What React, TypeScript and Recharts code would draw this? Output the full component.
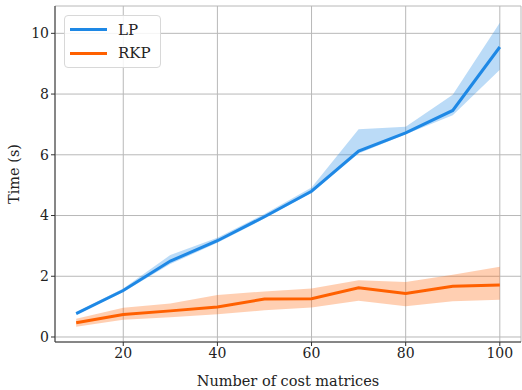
import {
  Area,
  CartesianGrid,
  ComposedChart,
  Line,
  XAxis,
  YAxis,
} from "recharts";

const counts = [10, 20, 30, 40, 50, 60, 70, 80, 90, 100];

const lpMean = [0.77, 1.53, 2.5, 3.17, 3.96, 4.8, 6.12, 6.72, 7.46, 9.55];
const lpLow = [0.74, 1.48, 2.4, 3.1, 3.9, 4.75, 6.04, 6.68, 7.3, 8.8];
const lpHigh = [0.82, 1.6, 2.7, 3.27, 4.05, 4.92, 6.84, 6.92, 7.98, 10.35];

const rkpMean = [0.47, 0.74, 0.86, 0.99, 1.25, 1.26, 1.62, 1.43, 1.67, 1.71];
const rkpLow = [0.34, 0.57, 0.65, 0.75, 0.88, 0.97, 1.19, 1.01, 1.18, 1.23];
const rkpHigh = [0.6, 0.96, 1.1, 1.38, 1.5, 1.6, 1.87, 1.81, 2.05, 2.31];

const xTicks = [20, 40, 60, 80, 100];
const yTicks = [0, 2, 4, 6, 8, 10];

const LP_COLOR = "#1e88e5";
const RKP_COLOR = "#ff6000";
const FONT = "'DejaVu Serif', serif";

const data = counts.map((n, i) => ({
  n,
  lp: lpMean[i],
  lpBand: [lpLow[i], lpHigh[i]],
  rkp: rkpMean[i],
  rkpBand: [rkpLow[i], rkpHigh[i]],
}));

const tickStyle = { fill: "#222", fontSize: 14, fontFamily: FONT };

function LegendBox() {
  const items = [
    { name: "LP", color: LP_COLOR },
    { name: "RKP", color: RKP_COLOR },
  ];
  return (
    <div
      style={{
        position: "absolute",
        left: 64,
        top: 15,
        border: "1px solid #d8d8d8",
        borderRadius: 4,
        background: "rgba(255,255,255,0.85)",
        padding: "2px 9px 2px 5px",
        fontFamily: FONT,
        fontSize: 15,
        color: "#222",
      }}
    >
      {items.map((it) => (
        <div
          key={it.name}
          style={{ display: "flex", alignItems: "center", height: 23.5 }}
        >
          <span
            style={{
              display: "inline-block",
              width: 37,
              height: 3,
              background: it.color,
              marginRight: 11,
            }}
          />
          {it.name}
        </div>
      ))}
    </div>
  );
}

export default function App() {
  return (
    <div
      style={{
        position: "absolute",
        left: 0,
        top: 0,
        width: 522,
        height: 390,
        background: "#fff",
      }}
    >
      <ComposedChart
        width={522}
        height={390}
        data={data}
        margin={{ top: 6, right: 1, left: 0, bottom: 0 }}
      >
        <CartesianGrid stroke="#b8b8b8" strokeWidth={1} />
        <XAxis
          xAxisId={0}
          dataKey="n"
          type="number"
          domain={[5.5, 104.5]}
          ticks={xTicks}
          tick={tickStyle}
          tickSize={4}
          stroke="#333"
          height={48}
          label={{
            value: "Number of cost matrices",
            position: "insideBottom",
            offset: 4,
            style: { fill: "#222", fontSize: 14.5, fontFamily: FONT },
          }}
        />
        <XAxis
          xAxisId="top"
          orientation="top"
          dataKey="n"
          type="number"
          domain={[5.5, 104.5]}
          ticks={xTicks}
          tick={false}
          tickSize={4}
          stroke="#333"
          height={0}
        />
        <YAxis
          yAxisId={0}
          type="number"
          domain={[-0.165, 10.9]}
          ticks={yTicks}
          tick={tickStyle}
          tickSize={4}
          stroke="#333"
          width={55}
          label={{
            value: "Time (s)",
            angle: -90,
            position: "insideLeft",
            offset: 14,
            style: {
              fill: "#222",
              fontSize: 14.5,
              fontFamily: FONT,
              textAnchor: "middle",
            },
          }}
        />
        <YAxis
          yAxisId="right"
          orientation="right"
          type="number"
          domain={[-0.165, 10.9]}
          ticks={yTicks}
          tick={false}
          tickSize={4}
          stroke="#333"
          width={0}
        />
        <Area
          dataKey="lpBand"
          type="linear"
          fill={LP_COLOR}
          fillOpacity={0.3}
          stroke="none"
          isAnimationActive={false}
        />
        <Area
          dataKey="rkpBand"
          type="linear"
          fill={RKP_COLOR}
          fillOpacity={0.3}
          stroke="none"
          isAnimationActive={false}
        />
        <Line
          dataKey="lp"
          type="linear"
          stroke={LP_COLOR}
          strokeWidth={3}
          dot={false}
          isAnimationActive={false}
        />
        <Line
          dataKey="rkp"
          type="linear"
          stroke={RKP_COLOR}
          strokeWidth={3}
          dot={false}
          isAnimationActive={false}
        />
      </ComposedChart>
      <LegendBox />
    </div>
  );
}
